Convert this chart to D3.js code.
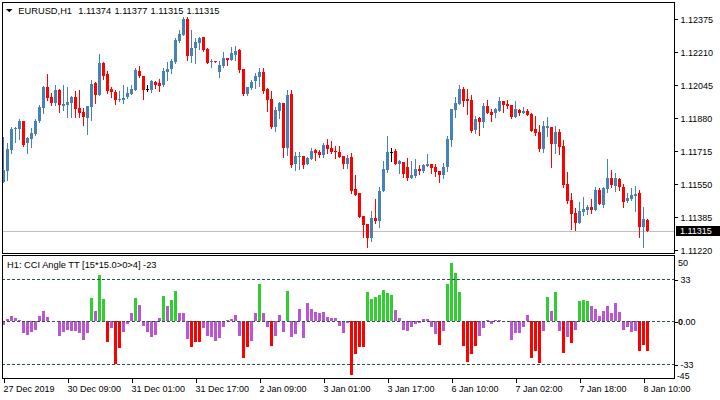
<!DOCTYPE html>
<html><head><meta charset="utf-8">
<script src="https://cdn.jsdelivr.net/npm/d3@7"></script>
<style>
html,body{margin:0;padding:0;background:#fff;}
svg{display:block;}
</style></head><body><svg id="c" width="720" height="400"></svg>
<script>
const symbol = "EURUSD,H1";
const openP = [1.11563,1.11618,1.11722,1.11827,1.11827,1.11867,1.11758,1.11778,1.11802,1.11867,
1.11933,1.12037,1.11985,1.11958,1.12023,1.11942,1.11947,1.11958,1.11987,1.11933,
1.11913,1.11883,1.11938,1.12058,1.11997,1.12158,1.12102,1.12027,1.12013,1.11972,
1.11972,1.11985,1.12003,1.12022,1.12117,1.12092,1.12027,1.12022,1.12063,1.12058,
1.12047,1.12112,1.12127,1.12163,1.12267,1.12297,1.12377,1.12192,1.12233,1.12258,
1.12285,1.12227,1.12163,1.12166,1.12113,1.12143,1.12183,1.12172,1.12197,1.12223,
1.12127,1.12002,1.12033,1.12067,1.12088,1.12112,1.12027,1.11978,1.11838,1.11918,
1.11955,1.11730,1.12002,1.11652,1.11688,1.11692,1.11652,1.11677,1.11722,1.11712,
1.11695,1.11748,1.11733,1.11718,1.11713,1.11693,1.11652,1.11687,1.11527,1.11508,
1.11393,1.11352,1.11283,1.11382,1.11368,1.11517,1.11622,1.11710,1.11717,1.11652,
1.11663,1.11635,1.11583,1.11593,1.11627,1.11617,1.11643,1.11652,1.11638,1.11617,
1.11597,1.11638,1.11772,1.11922,1.11952,1.12027,1.11977,1.11972,1.11822,1.11883,
1.11863,1.11942,1.11912,1.11905,1.11918,1.11967,1.11952,1.11947,1.11888,1.11922,
1.11905,1.11917,1.11902,1.11827,1.11813,1.11727,1.11833,1.11838,1.11752,1.11813,
1.11743,1.11552,1.11472,1.11407,1.11358,1.11413,1.11422,1.11438,1.11422,1.11522,
1.11447,1.11527,1.11580,1.11543,1.11577,1.11538,1.11467,1.11477,1.11493,1.11508,
1.11338,1.11374];
const highP = [1.11788,1.11758,1.11837,1.11839,1.11877,1.11869,1.11788,1.11832,1.11877,1.11947,
1.12042,1.12102,1.12005,1.12045,1.12027,1.12045,1.12035,1.11993,1.12017,1.12022,
1.11930,1.11942,1.12072,1.12063,1.12203,1.12163,1.12118,1.12035,1.12022,1.12017,
1.12045,1.12035,1.12045,1.12132,1.12142,1.12092,1.12047,1.12072,1.12068,1.12077,
1.12130,1.12163,1.12177,1.12280,1.12322,1.12388,1.12388,1.12322,1.12280,1.12288,
1.12288,1.12233,1.12177,1.12166,1.12166,1.12213,1.12183,1.12238,1.12243,1.12227,
1.12127,1.12035,1.12072,1.12105,1.12130,1.12130,1.12033,1.12017,1.11935,1.11963,
1.11955,1.12022,1.12022,1.11713,1.11713,1.11692,1.11688,1.11730,1.11727,1.11722,
1.11755,1.11777,1.11767,1.11742,1.11742,1.11693,1.11697,1.11705,1.11597,1.11508,
1.11393,1.11352,1.11417,1.11477,1.11538,1.11668,1.11792,1.11733,1.11727,1.11672,
1.11663,1.11680,1.11668,1.11677,1.11647,1.11652,1.11702,1.11652,1.11652,1.11617,
1.11655,1.11792,1.11927,1.11985,1.12047,1.12035,1.12027,1.11997,1.11892,1.11885,
1.11955,1.11972,1.11925,1.11933,1.11985,1.11967,1.11972,1.11947,1.11967,1.11927,
1.11935,1.11927,1.11905,1.11892,1.11847,1.11867,1.11888,1.11838,1.11842,1.11827,
1.11772,1.11613,1.11508,1.11430,1.11463,1.11488,1.11447,1.11477,1.11538,1.11533,
1.11538,1.11677,1.11622,1.11608,1.11583,1.11552,1.11508,1.11533,1.11543,1.11522,
1.11438,1.11377];
const lowP = [1.11561,1.11572,1.11707,1.11763,1.11777,1.11743,1.11707,1.11738,1.11797,1.11863,
1.11905,1.11972,1.11947,1.11947,1.11913,1.11922,1.11888,1.11888,1.11888,1.11888,
1.11847,1.11802,1.11872,1.11955,1.11997,1.12077,1.12005,1.11985,1.11952,1.11968,
1.11958,1.11980,1.12000,1.12022,1.12088,1.11977,1.12017,1.12013,1.12033,1.12017,
1.12042,1.12072,1.12105,1.12158,1.12260,1.12297,1.12172,1.12162,1.12155,1.12225,
1.12218,1.12158,1.12138,1.12164,1.12085,1.12138,1.12147,1.12172,1.12172,1.12113,
1.11997,1.11997,1.12027,1.12033,1.12043,1.12005,1.11918,1.11830,1.11818,1.11883,
1.11688,1.11697,1.11638,1.11622,1.11625,1.11633,1.11652,1.11677,1.11672,1.11688,
1.11688,1.11708,1.11708,1.11683,1.11685,1.11633,1.11630,1.11508,1.11497,1.11385,
1.11288,1.11238,1.11268,1.11355,1.11338,1.11517,1.11613,1.11668,1.11652,1.11605,
1.11588,1.11572,1.11583,1.11588,1.11602,1.11613,1.11643,1.11605,1.11593,1.11563,
1.11583,1.11617,1.11743,1.11888,1.11952,1.11943,1.11902,1.11813,1.11808,1.11797,
1.11835,1.11905,1.11868,1.11885,1.11918,1.11913,1.11930,1.11880,1.11885,1.11897,
1.11905,1.11897,1.11818,1.11797,1.11718,1.11713,1.11792,1.11638,1.11705,1.11700,
1.11538,1.11455,1.11327,1.11322,1.11355,1.11397,1.11402,1.11405,1.11422,1.11452,
1.11438,1.11513,1.11538,1.11517,1.11522,1.11438,1.11463,1.11472,1.11417,1.11288,
1.11238,1.11315];
const closeP = [1.11621,1.11727,1.11827,1.11834,1.11867,1.11747,1.11782,1.11805,1.11867,1.11935,
1.12037,1.11980,1.11958,1.12022,1.11947,1.11952,1.11962,1.11987,1.11927,1.11908,
1.11887,1.11942,1.12052,1.11997,1.12158,1.12093,1.12017,1.12010,1.11972,1.11978,
1.11982,1.12007,1.12027,1.12122,1.12092,1.12022,1.12027,1.12067,1.12047,1.12042,
1.12117,1.12128,1.12168,1.12272,1.12302,1.12377,1.12192,1.12230,1.12260,1.12283,
1.12222,1.12158,1.12168,1.12164,1.12147,1.12183,1.12172,1.12205,1.12218,1.12122,
1.12002,1.12035,1.12063,1.12093,1.12113,1.12018,1.11972,1.11835,1.11922,1.11955,
1.11733,1.11997,1.11647,1.11692,1.11693,1.11647,1.11680,1.11718,1.11708,1.11695,
1.11748,1.11728,1.11713,1.11712,1.11688,1.11652,1.11683,1.11518,1.11497,1.11388,
1.11347,1.11283,1.11382,1.11367,1.11517,1.11627,1.11710,1.11710,1.11652,1.11667,
1.11602,1.11580,1.11597,1.11627,1.11617,1.11647,1.11652,1.11633,1.11613,1.11597,
1.11638,1.11777,1.11927,1.11955,1.12027,1.11968,1.11967,1.11817,1.11877,1.11863,
1.11942,1.11908,1.11897,1.11927,1.11967,1.11947,1.11942,1.11885,1.11927,1.11905,
1.11917,1.11897,1.11818,1.11808,1.11727,1.11842,1.11842,1.11752,1.11813,1.11738,
1.11547,1.11467,1.11402,1.11358,1.11417,1.11427,1.11438,1.11422,1.11522,1.11452,
1.11533,1.11583,1.11547,1.11583,1.11538,1.11463,1.11483,1.11497,1.11502,1.11338,
1.11377,1.11315];
const cciValue = [-2.6,2.1,4.7,2.6,0.8,-8.8,-10.4,-8.3,-6.2,4.7,
8.5,3.9,0,0,-11.4,-8.3,-6.2,-7,-7,-9,
-14,-9,18.6,8.5,36.5,17.6,-16,-5.2,-32.9,-20.7,
-8.3,-2.1,7,18.6,12.9,-3.6,-7.8,-12.2,-10.4,3.1,
20.2,12.4,17.1,24.1,6.7,7,-13.7,-19.9,-16,-16,
-5.2,-11.4,-12.2,-14.8,-12.7,-4.4,1.3,1.6,5.4,-10.9,
-27.7,-19.2,-14.8,6.5,29.8,6.5,-3.9,-18.6,-10.9,5.4,
-7.8,24.1,-11.6,-9.3,10.1,-12.4,14.8,10.1,7.8,7,
7.8,3.9,2.6,3.1,-3.6,-9,-1,-41.1,-24.6,-19.2,
-19.2,23.3,17.9,19.4,21.2,24.8,22.5,21,9.3,3.1,
-6.2,-7,-3.9,-2.3,-1.3,1.6,1.6,-3.9,-9.3,-17.9,
-7,29.8,45.8,38,23.3,-18.6,-30.8,-24.6,-18.6,-11.4,
-4.9,1.3,-2.3,0.8,0.8,0,0,-14,-9,-9,
-4.4,5.4,-27.7,-23,-31.6,-7,19.4,8.5,23.3,-7,
-23.8,-12.2,-16.8,-6.2,16.3,17.1,16.3,12.4,9.8,4.7,
8.5,12.4,6.5,14.8,7.5,-6.2,-3.9,-8.3,-7,-23,
-17.9,-23];
const cciState = ("mmmmmmmmmm"+"mmmmmmmmmm"+"mmgmggrmrr"+"mmmgmmmmmm"+"gmggmmmrrr"+
"mmmmmmmmmm"+"rrmmgmmrmm"+"mgmmmmmmmm"+"mmmmmmmrrr"+"rgggggggmm"+
"mmmmmmmmmr"+"mggggrrrrm"+"mmmmmmmmmm"+"mmrrrmgmgm"+"rmrmgggmmm"+
"mmmmmmmmmr"+"rr").split("");
const tickBars = [0,16,32,48,64,80,96,112,128,144,160];
const tickLabels = ["27 Dec 2019","30 Dec 09:00","31 Dec 01:00","31 Dec 17:00","2 Jan 09:00","3 Jan 01:00","3 Jan 17:00","6 Jan 10:00","7 Jan 02:00","7 Jan 18:00","8 Jan 10:00"];
const priceTicks = [1.12375,1.12210,1.12045,1.11880,1.11715,1.11550,1.11385,1.11220];
const cciLevels = [33,0,-33];
const cciTop = 50, cciBottom = -45;
const indicatorName = "H1: CCI Angle TT [15*15.0>0>4]";

const FONT = "'Liberation Sans', Arial, sans-serif";
const UP = "#4682B4", DOWN = "#FF0000", DOJI = "#000000";
const CCICOL = {g:"#32CD32", r:"#FF0000", m:"#BA55D3"};

const svg = d3.select("#c").attr("font-family", FONT);
const n = closeP.length;
const x = d3.scaleLinear().domain([0, n-1]).range([3.5, 3.5 + 4*(n-1)]);
const y = d3.scaleLinear().domain([1.11220, 1.12375]).range([250.3, 19.3]);
const yc = d3.scaleLinear().domain([-33, 0, 33]).range([364.5, 321.5, 279.5]);

const L = 2, R = 674, MT = 2, MB = 253, IT = 255, IB = 378.5;

const defs = svg.append("defs");
defs.append("clipPath").attr("id","cm").append("rect").attr("x",L).attr("y",MT).attr("width",R-L).attr("height",MB-MT);
defs.append("clipPath").attr("id","ci").append("rect").attr("x",L).attr("y",IT).attr("width",R-L).attr("height",IB-IT);

// current price line
const last = n-1;
svg.append("line").attr("x1",L).attr("x2",R)
  .attr("y1",Math.floor(y(closeP[last]))+0.5).attr("y2",Math.floor(y(closeP[last]))+0.5)
  .attr("stroke","#C0C0C0").attr("stroke-width",1);

// candles
const gC = svg.append("g").attr("clip-path","url(#cm)").attr("shape-rendering","crispEdges");
const idx = d3.range(n);
const col = i => closeP[i] > openP[i] ? UP : (closeP[i] < openP[i] ? DOWN : DOJI);
gC.selectAll("rect.w").data(idx).join("rect").attr("class","w")
  .attr("x", i => x(i)-0.5).attr("width",1)
  .attr("y", i => Math.round(y(highP[i])))
  .attr("height", i => Math.max(1, Math.round(y(lowP[i])) - Math.round(y(highP[i])) + 1))
  .attr("fill", col);
gC.selectAll("rect.b").data(idx).join("rect").attr("class","b")
  .attr("x", i => x(i)-1.5).attr("width",3)
  .attr("y", i => Math.round(y(Math.max(openP[i],closeP[i]))))
  .attr("height", i => Math.max(1, Math.round(y(Math.min(openP[i],closeP[i]))) - Math.round(y(Math.max(openP[i],closeP[i])))))
  .attr("fill", col);

// indicator bars
const gI = svg.append("g").attr("clip-path","url(#ci)").attr("shape-rendering","crispEdges");
gI.selectAll("rect").data(idx.filter(i => cciValue[i] !== 0)).join("rect")
  .attr("x", i => x(i)-1.5).attr("width",3)
  .attr("y", i => Math.round(Math.min(yc(0)-0.5, yc(cciValue[i]))))
  .attr("height", i => Math.max(1, Math.round(Math.abs(yc(cciValue[i]) - (yc(0)-0.5)))))
  .attr("fill", i => CCICOL[cciState[i]]);

// level lines
svg.append("g").selectAll("line").data(cciLevels).join("line")
  .attr("x1",L).attr("x2",R).attr("y1",d=>yc(d)).attr("y2",d=>yc(d))
  .attr("stroke","#2F4F4F").attr("stroke-width",1).attr("stroke-dasharray","3,2")
  .attr("shape-rendering","crispEdges");

// frames
svg.append("rect").attr("x",L+0.5).attr("y",MT+0.5).attr("width",R-L).attr("height",MB-MT-0.5)
  .attr("fill","none").attr("stroke","#000").attr("stroke-width",1).attr("shape-rendering","crispEdges");
svg.append("rect").attr("x",L+0.5).attr("y",IT+0.5).attr("width",R-L).attr("height",IB-IT-0.5)
  .attr("fill","none").attr("stroke","#000").attr("stroke-width",1).attr("shape-rendering","crispEdges");

// price axis
const pa = svg.append("g").attr("transform",`translate(${R+0.5},0)`)
  .call(d3.axisRight(y).tickValues(priceTicks).tickFormat(d3.format(".5f")).tickSize(3).tickPadding(3));
pa.select(".domain").remove();
pa.selectAll("text").attr("font-size",9).attr("font-family",FONT).attr("fill","#000").attr("dy","0.36em");
pa.selectAll("line").attr("shape-rendering","crispEdges");

// current price box
const cy = y(closeP[last]);
svg.append("rect").attr("x",676).attr("y",Math.round(cy)-5).attr("width",44).attr("height",10).attr("fill","#000");
svg.append("text").attr("x",680).attr("y",Math.round(cy)+3.3).attr("font-size",9).attr("fill","#fff")
  .text(d3.format(".5f")(closeP[last]));

// indicator axis
const ia = svg.append("g").attr("transform",`translate(${R+0.5},0)`)
  .call(d3.axisRight(yc).tickValues(cciLevels).tickFormat(d => d === 0 ? "" : d).tickSize(3).tickPadding(3));
ia.select(".domain").remove();
ia.selectAll("text").attr("font-size",9).attr("font-family",FONT).attr("fill","#000").attr("dy","0.36em");
ia.selectAll("line").attr("shape-rendering","crispEdges");
// zero label with emphasised leading zero
const zt = svg.append("text").attr("x",678).attr("y",yc(0)+3.2).attr("font-size",9);
zt.append("tspan").attr("font-weight","bold").text("0");
zt.append("tspan").text(".00");
svg.append("text").attr("x",678).attr("y",266).attr("font-size",9).text(cciTop);
svg.append("text").attr("x",677).attr("y",378.5).attr("font-size",8.6).text(cciBottom);

// time axis
const ta = svg.append("g").attr("transform",`translate(0,${IB})`)
  .call(d3.axisBottom(x).tickValues(tickBars).tickFormat((d,i) => tickLabels[i]).tickSize(4).tickPadding(2));
ta.select(".domain").remove();
ta.selectAll("line").attr("shape-rendering","crispEdges");
ta.selectAll("text").attr("font-size",9).attr("font-family",FONT).attr("fill","#000")
  .attr("text-anchor","start").attr("dx","-0.5").attr("y",13).attr("dy",0);

// title
svg.append("path").attr("d","M6,9 L12.5,9 L9.25,12.2 Z").attr("fill","#000");
svg.append("text").attr("x",18.3).attr("y",14).attr("font-size",9.3).text(symbol);
const tv = [openP[last], highP[last], lowP[last], closeP[last]];
svg.append("g").selectAll("text").data(tv).join("text")
  .attr("x",(d,i)=>78.3 + i*36.1).attr("y",14).attr("font-size",9.3).text(d=>d3.format(".5f")(d));

// indicator title
svg.append("text").attr("x",7).attr("y",268).attr("font-size",9.3)
  .text(`${indicatorName} ${cciValue[last]}`);
</script></body></html>
